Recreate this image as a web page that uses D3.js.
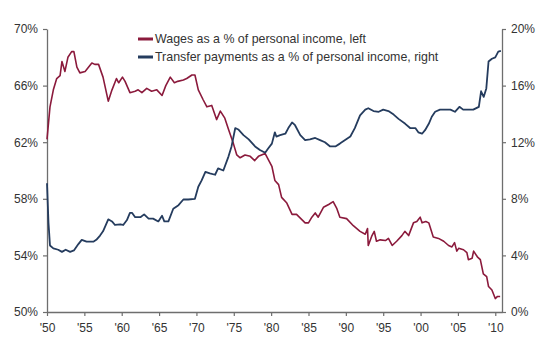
<!DOCTYPE html>
<html>
<head>
<meta charset="utf-8">
<script src="https://cdn.jsdelivr.net/npm/d3@7"></script>
<style>
  body { margin: 0; background: #fff; }
  svg { font-family: "Liberation Sans", Arial, sans-serif; }
</style>
</head>
<body>
<div id="chart"></div>
<script>
// Wages as a % of personal income (left axis)
const wageYear = [1950.0, 1950.4, 1950.85, 1951.3, 1951.75, 1952.0, 1952.4, 1952.8, 1953.3, 1953.6,
  1954.0, 1954.4, 1955.1, 1956.0, 1956.4, 1956.9, 1957.5, 1958.2, 1958.7, 1959.3,
  1959.6, 1960.1, 1960.45, 1961.1, 1961.8, 1962.2, 1962.7, 1963.35, 1964.0, 1964.7,
  1965.4, 1965.9, 1966.5, 1967.05, 1967.5, 1968.25, 1968.7, 1969.4, 1969.8, 1970.25,
  1970.9, 1971.4, 1972.05, 1972.7, 1973.2, 1973.8, 1974.3, 1974.95, 1975.4, 1975.85,
  1976.5, 1977.2, 1977.8, 1978.3, 1979.2, 1980.1, 1980.5, 1981.0, 1981.4, 1982.1,
  1982.8, 1983.4, 1984.55, 1985.0, 1985.45, 1985.9, 1986.3, 1987.0, 1987.7, 1988.3,
  1988.8, 1989.2, 1990.1, 1991.0, 1991.9, 1992.6, 1992.9, 1993.0, 1993.5, 1993.8,
  1994.1, 1994.6, 1995.3, 1995.7, 1996.2, 1996.8, 1997.5, 1997.9, 1998.4, 1999.05,
  1999.5, 1999.95, 2000.2, 2000.7, 2001.1, 2001.7, 2002.4, 2003.1, 2003.75, 2004.2,
  2004.55, 2004.85, 2005.1, 2005.75, 2006.2, 2006.4, 2006.9, 2007.1, 2007.6, 2008.0,
  2008.4, 2008.85, 2009.1, 2009.55, 2010.0, 2010.3, 2010.65];
const wagePct = [62.2, 64.5, 65.7, 66.5, 66.7, 67.7, 67.0, 68.0, 68.4, 68.4,
  67.3, 66.9, 67.0, 67.6, 67.5, 67.5, 66.6, 64.9, 65.7, 66.5,
  66.2, 66.6, 66.3, 65.5, 65.6, 65.7, 65.5, 65.8, 65.6, 65.7,
  65.3, 66.0, 66.6, 66.2, 66.3, 66.4, 66.5, 66.75, 66.75, 65.7,
  65.0, 64.5, 64.6, 63.6, 64.2, 63.7, 62.9, 61.9, 61.1, 60.9,
  61.1, 61.0, 60.7, 61.0, 61.2, 60.3, 59.3, 59.0, 58.1, 57.7,
  56.9, 56.9, 56.3, 56.3, 56.7, 57.0, 56.7, 57.4, 57.6, 57.8,
  57.3, 56.7, 56.6, 56.1, 55.7, 55.5, 55.9, 54.7, 55.4, 55.7,
  55.0, 55.1, 55.05, 55.2, 54.7, 55.0, 55.4, 55.7, 55.4, 56.3,
  56.4, 56.7, 56.3, 56.4, 56.3, 55.3, 55.2, 55.0, 54.7, 54.6,
  54.9, 54.3, 54.5, 54.4, 54.2, 53.7, 53.8, 54.3, 53.9, 53.7,
  52.7, 52.5, 51.8, 51.55, 50.95, 51.1, 51.1];

// Transfer payments as a % of personal income (right axis)
const transferYear = [1950.0, 1950.2, 1950.4, 1950.85, 1951.5, 1952.0, 1952.5, 1953.1, 1953.6, 1954.2,
  1954.65, 1955.3, 1956.2, 1956.6, 1957.1, 1957.5, 1958.2, 1958.7, 1959.1, 1959.8,
  1960.2, 1960.7, 1961.1, 1961.4, 1961.8, 1962.5, 1963.0, 1963.6, 1964.2, 1964.9,
  1965.4, 1965.7, 1966.25, 1966.9, 1967.6, 1968.25, 1968.9, 1969.8, 1970.25, 1970.7,
  1971.2, 1971.8, 1972.5, 1972.9, 1973.6, 1974.3, 1974.7, 1975.2, 1975.6, 1976.3,
  1977.0, 1977.85, 1978.5, 1979.2, 1979.6, 1980.1, 1980.5, 1980.7, 1981.2, 1981.9,
  1982.3, 1982.8, 1983.2, 1983.9, 1984.55, 1985.2, 1985.9, 1986.55, 1987.2, 1987.9,
  1988.6, 1989.2, 1989.9, 1990.6, 1991.2, 1991.9, 1992.6, 1993.0, 1993.7, 1994.4,
  1995.0, 1995.7, 1996.4, 1997.05, 1997.95, 1998.6, 1999.3, 1999.7, 2000.2, 2000.6,
  2001.1, 2001.5, 2001.95, 2002.6, 2003.3, 2004.0, 2004.6, 2005.2, 2005.7, 2006.4,
  2007.05, 2007.8, 2008.1, 2008.45, 2008.8, 2009.1, 2009.55, 2010.0, 2010.4, 2010.75];
const transferPct = [9.1, 6.3, 4.7, 4.5, 4.4, 4.25, 4.4, 4.25, 4.35, 4.8,
  5.1, 4.97, 4.97, 5.1, 5.4, 5.7, 6.55, 6.4, 6.15, 6.2,
  6.15, 6.5, 7.0, 7.0, 6.7, 6.7, 6.9, 6.6, 6.6, 6.4,
  6.8, 6.4, 6.4, 7.3, 7.55, 7.95, 7.95, 8.0, 8.85, 9.3,
  9.9, 9.8, 9.7, 10.15, 10.0, 11.0, 11.7, 13.0, 12.9, 12.5,
  12.2, 11.7, 11.45, 11.25, 11.55, 11.9, 12.7, 12.4, 12.5, 12.6,
  13.0, 13.4, 13.2, 12.5, 12.15, 12.2, 12.3, 12.15, 12.0, 11.7,
  11.7, 11.9, 12.15, 12.4, 13.0, 13.9, 14.3, 14.4, 14.2, 14.15,
  14.3, 14.2, 13.95, 13.65, 13.3, 13.0, 13.0, 12.7, 12.6, 12.85,
  13.3, 13.8, 14.15, 14.3, 14.3, 14.3, 14.15, 14.5, 14.3, 14.3,
  14.3, 14.5, 15.6, 15.2, 15.8, 17.7, 17.9, 18.0, 18.4, 18.45];

const xTicks = [1950, 1955, 1960, 1965, 1970, 1975, 1980, 1985, 1990, 1995, 2000, 2005, 2010];
const leftTicks = [50, 54, 58, 62, 66, 70];
const rightTicks = [0, 4, 8, 12, 16, 20];
const legendLabels = ["Wages as a % of personal income, left",
  "Transfer payments as a % of personal income, right"];

const width = 542, height = 354;
const margin = { top: 29, right: 40, bottom: 42, left: 47 };
const wageColor = "#8b1a3c", transferColor = "#253c5e";
const axisColor = "#6e6e6e", textColor = "#333";

const svg = d3.select("#chart").append("svg")
  .attr("width", width)
  .attr("height", height);

const x = d3.scaleLinear()
  .domain([1950, 2010.9])
  .range([margin.left, width - margin.right]);
const yL = d3.scaleLinear().domain([50, 70]).range([height - margin.bottom, margin.top]);
const yR = d3.scaleLinear().domain([0, 20]).range([height - margin.bottom, margin.top]);

// axes
const styleAxis = g => {
  g.select(".domain").attr("stroke", axisColor).attr("stroke-width", 1.3);
  g.selectAll(".tick line").attr("stroke", axisColor).attr("stroke-width", 1.2);
  g.selectAll(".tick text").attr("fill", textColor).attr("font-size", 12);
};

svg.append("g")
  .attr("transform", `translate(0,${height - margin.bottom})`)
  .call(d3.axisBottom(x).tickValues(xTicks).tickSize(4).tickSizeOuter(0).tickPadding(7)
    .tickFormat(d => "'" + String(d).slice(2)))
  .call(styleAxis);

svg.append("g")
  .attr("transform", `translate(${margin.left},0)`)
  .call(d3.axisLeft(yL).tickValues(leftTicks).tickSize(4).tickSizeOuter(0).tickPadding(5)
    .tickFormat(d => d + "%"))
  .call(styleAxis);

svg.append("g")
  .attr("transform", `translate(${width - margin.right},0)`)
  .call(d3.axisRight(yR).tickValues(rightTicks).tickSize(4).tickSizeOuter(0).tickPadding(5)
    .tickFormat(d => d + "%"))
  .call(styleAxis);

// lines
const wageLine = d3.line()
  .x((d, i) => x(wageYear[i]))
  .y(d => yL(d));
const transferLine = d3.line()
  .x((d, i) => x(transferYear[i]))
  .y(d => yR(d));

svg.append("path")
  .datum(wagePct)
  .attr("fill", "none")
  .attr("stroke", wageColor)
  .attr("stroke-width", 1.6)
  .attr("stroke-linejoin", "round")
  .attr("d", wageLine);

svg.append("path")
  .datum(transferPct)
  .attr("fill", "none")
  .attr("stroke", transferColor)
  .attr("stroke-width", 1.8)
  .attr("stroke-linejoin", "round")
  .attr("d", transferLine);

// legend
const legend = svg.append("g").attr("transform", "translate(138,39)");
const legendItems = legend.selectAll("g")
  .data(legendLabels)
  .enter().append("g")
  .attr("transform", (d, i) => `translate(0,${i * 18})`);

legendItems.append("line")
  .attr("x1", 0).attr("x2", 15)
  .attr("stroke", (d, i) => i === 0 ? wageColor : transferColor)
  .attr("stroke-width", 3);

legendItems.append("text")
  .attr("x", 17)
  .attr("dy", "0.35em")
  .attr("font-size", 12.4)
  .attr("fill", textColor)
  .text(d => d);
</script>
</body>
</html>
